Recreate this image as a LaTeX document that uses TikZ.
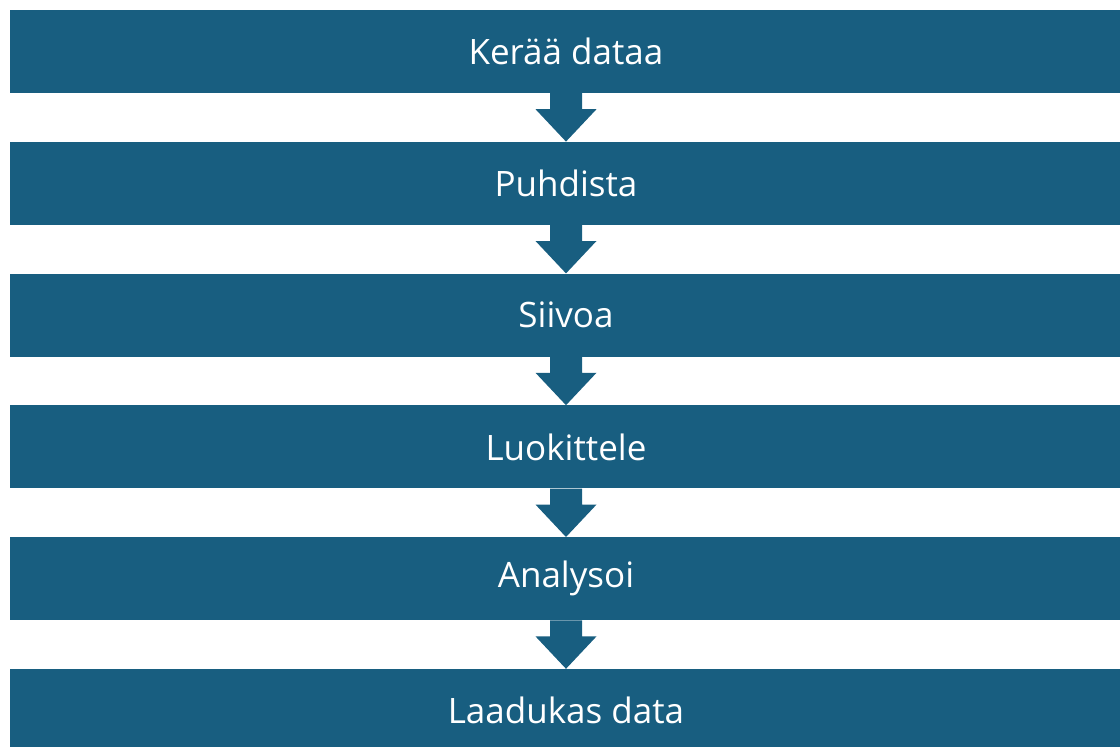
\documentclass[tikz,border=0pt]{standalone}
\usepackage{fontspec}
\setmainfont{Open Sans}
\usepackage{tikz}
\usetikzlibrary{calc}
\usetikzlibrary{positioning}
\definecolor{barColor}{HTML}{185E80}
\tikzstyle{stepbar} = [fill=barColor,text=white,minimum width=1112pt,minimum height=83pt,inner sep=0pt,font=\fontsize{35}{42}\selectfont]
\tikzstyle{downarrow} = [fill=barColor]
\newcommand{\blockarrow}[2]{%
  \fill [downarrow] ($ (#1.south)+(-16pt,0) $) -- ++(0,-16pt) -- ++(-14.5pt,0) -- (#2.north)
    -- ($ (#1.south)+(30.5pt,-16pt) $) -- ++(-14.5pt,0) -- ($ (#1.south)+(16pt,0) $) -- cycle;}

\begin{document}
\begin{tikzpicture}[node distance=48.4pt]
%
\useasboundingbox (0,0) rectangle (1120pt,-747pt);

\node (collect) [stepbar] at (566pt,-51.5pt) {Kerää dataa};
\node (clean) [stepbar, below = of collect] {Puhdista};
\node (tidy) [stepbar, below = of clean] {Siivoa};
\node (classify) [stepbar, below = of tidy] {Luokittele};
\node (analyse) [stepbar, below = of classify] {Analysoi};
\node (quality) [stepbar, below = of analyse] {Laadukas data};

%
\blockarrow{collect}{clean}
\blockarrow{clean}{tidy}
\blockarrow{tidy}{classify}
\blockarrow{classify}{analyse}
\blockarrow{analyse}{quality}
\end{tikzpicture}
\end{document}
